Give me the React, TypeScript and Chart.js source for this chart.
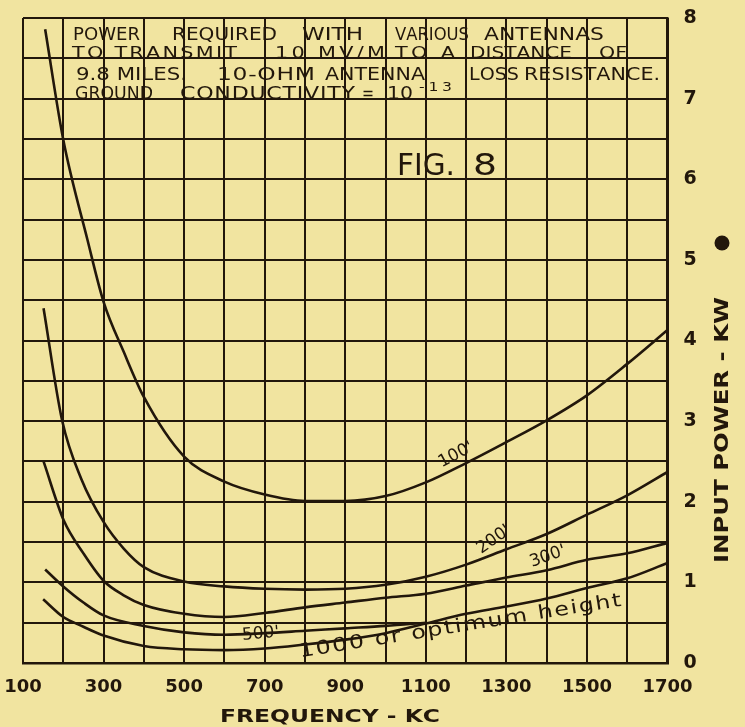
import React, { useEffect, useRef } from "react";
import { Chart, registerables } from "chart.js";

Chart.register(...registerables);

// ---- data (frequency in kc, input power in kW) ----
const FREQ_100 = [155, 200, 260, 300, 350, 400, 500, 600, 700, 800, 900, 1000, 1100, 1200, 1300, 1400, 1500, 1600, 1700];
const KW_100 = [7.86, 6.49, 5.25, 4.48, 3.86, 3.3, 2.56, 2.25, 2.09, 2.01, 2.01, 2.07, 2.24, 2.48, 2.74, 3.01, 3.32, 3.71, 4.13];

const FREQ_200 = [151, 197, 245, 300, 350, 400, 500, 600, 700, 800, 900, 1000, 1100, 1200, 1300, 1400, 1500, 1600, 1700];
const KW_200 = [4.4, 3.01, 2.28, 1.75, 1.42, 1.19, 1.01, 0.95, 0.92, 0.91, 0.92, 0.97, 1.07, 1.22, 1.41, 1.6, 1.84, 2.08, 2.37];

const FREQ_300 = [151, 201, 250, 300, 350, 400, 500, 600, 700, 800, 900, 1000, 1100, 1200, 1300, 1400, 1500, 1600, 1700];
const KW_300 = [2.5, 1.77, 1.36, 1.02, 0.84, 0.72, 0.61, 0.57, 0.62, 0.69, 0.75, 0.81, 0.86, 0.96, 1.06, 1.15, 1.28, 1.36, 1.49];

const FREQ_500 = [155, 200, 250, 300, 400, 500, 600, 700, 800, 900, 1000, 1100];
const KW_500 = [1.16, 0.95, 0.75, 0.59, 0.46, 0.38, 0.35, 0.37, 0.4, 0.43, 0.46, 0.5];

const FREQ_1000 = [150, 200, 250, 300, 400, 500, 600, 700, 800, 900, 1000, 1100, 1200, 1300, 1400, 1500, 1600, 1700];
const KW_1000 = [0.79, 0.57, 0.45, 0.34, 0.21, 0.17, 0.16, 0.18, 0.23, 0.29, 0.37, 0.49, 0.61, 0.7, 0.8, 0.93, 1.05, 1.24];

const X_TICK_LABELS = [100, 300, 500, 700, 900, 1100, 1300, 1500, 1700];
const Y_TICK_LABELS = [0, 1, 2, 3, 4, 5, 6, 7, 8];

const X_TITLE = "FREQUENCY - KC";
const Y_TITLE = "INPUT POWER - KW";
const FIG_LABEL = ["FIG.", "8"];

// ---- styles ----
const PAPER = "#F1E4A0";
const INK = "#22170b";
const FONT = "'DejaVu Sans', sans-serif";

type Word = [string, number, number];
const TITLE_LINES: { size: number; base: number; words: Word[] }[] = [
  { size: 18, base: 40, words: [["POWER", 73, 140], ["REQUIRED", 172, 277], ["WITH", 302, 363], ["VARIOUS", 395, 469], ["ANTENNAS", 484, 604]] },
  { size: 16, base: 58, words: [["TO TRANSMIT", 72, 237], ["10 MV/M", 275, 385], ["TO A", 395, 455], ["DISTANCE", 470, 572], ["OF", 599, 627]] },
  { size: 18, base: 80, words: [["9.8 MILES.", 76, 187], ["10-OHM", 217, 315], ["ANTENNA", 325, 425], ["LOSS", 469, 519], ["RESISTANCE.", 524, 660]] },
  { size: 17, base: 99, words: [["GROUND", 75, 153], ["CONDUCTIVITY", 180, 355], ["=", 362, 374], ["10", 387, 413]] },
];

// draws text between x0 and x1: widened up to maxScale, remaining room spread between letters
function drawSpaced(ctx: CanvasRenderingContext2D, text: string, x0: number, x1: number, y: number, maxScale = 1.3) {
  const chars = Array.from(text);
  const widths = chars.map((c) => ctx.measureText(c).width);
  const total = widths.reduce((a, b) => a + b, 0);
  const target = x1 - x0;
  const sx = chars.length < 2 ? target / total : Math.min(maxScale, target / total);
  const gap = chars.length < 2 ? 0 : (target - total * sx) / (chars.length - 1);
  let x = x0;
  chars.forEach((c, i) => {
    ctx.save();
    ctx.translate(x, y);
    ctx.scale(sx, 1);
    ctx.fillText(c, 0, 0);
    ctx.restore();
    x += widths[i] * sx + gap;
  });
}

const paperPlugin = {
  id: "paper",
  beforeDraw(chart: any) {
    const { ctx, width, height } = chart;
    ctx.save();
    ctx.fillStyle = PAPER;
    ctx.fillRect(0, 0, width, height);
    ctx.restore();
  },
};

const annotationPlugin = {
  id: "annotations",
  afterDraw(chart: any) {
    const { ctx } = chart;
    const xs = chart.scales.x;
    const ys = chart.scales.y;
    const px = (f: number) => xs.getPixelForValue(f);
    const py = (v: number) => ys.getPixelForValue(v);
    ctx.save();
    ctx.fillStyle = INK;
    ctx.textAlign = "left";
    ctx.textBaseline = "alphabetic";

    // title block
    TITLE_LINES.forEach((line) => {
      ctx.font = `${line.size}px ${FONT}`;
      line.words.forEach(([t, a, b]) => drawSpaced(ctx, t, a, b, line.base));
    });
    ctx.font = `12px ${FONT}`;
    drawSpaced(ctx, "-13", 419, 452, 91);

    // FIG. 8
    ctx.font = `30px ${FONT}`;
    drawSpaced(ctx, FIG_LABEL[0], 397, 455, 175);
    drawSpaced(ctx, FIG_LABEL[1], 473, 497, 175);

    // curve labels
    const lbl = (t: string, f: number, v: number, deg: number, size: number) => {
      ctx.save();
      ctx.translate(px(f), py(v));
      ctx.rotate((deg * Math.PI) / 180);
      ctx.font = `${size}px ${FONT}`;
      ctx.textAlign = "center";
      ctx.textBaseline = "middle";
      ctx.fillText(t, 0, 0);
      ctx.restore();
    };
    lbl("100'", 1175, 2.58, -28, 17);
    lbl("200'", 1269, 1.53, -35, 17);
    lbl("300'", 1403, 1.32, -20, 17);
    lbl("500'", 690, 0.36, -5, 17);

    // "1000 or optimum height" along the lowest curve
    {
      const x0 = px(788), y0 = py(0.07), x1 = px(1587), y1 = py(0.71);
      const ang = Math.atan2(y1 - y0, x1 - x0);
      const len = Math.hypot(x1 - x0, y1 - y0);
      ctx.save();
      ctx.translate(x0, y0);
      ctx.rotate(ang);
      ctx.font = `19px ${FONT}`;
      drawSpaced(ctx, "1000 or optimum height", 0, len, 0, 1.25);
      ctx.restore();
    }

    // x axis title
    ctx.font = `bold 18px ${FONT}`;
    drawSpaced(ctx, X_TITLE, 220, 440, 722);

    // y axis title (reads bottom to top)
    ctx.save();
    ctx.translate(728, 0);
    ctx.rotate(-Math.PI / 2);
    ctx.font = `bold 19px ${FONT}`;
    drawSpaced(ctx, Y_TITLE, -563, -297, 0);
    ctx.restore();
    ctx.beginPath();
    ctx.arc(722, 243, 7.5, 0, Math.PI * 2);
    ctx.fill();

    ctx.restore();
  },
};

function series(label: string, xs: number[], ys: number[]) {
  return {
    label,
    data: xs.map((x, i) => ({ x, y: ys[i] })),
    borderColor: INK,
    borderWidth: 2.6,
    pointRadius: 0,
    fill: false,
    cubicInterpolationMode: "monotone" as const,
  };
}

export default function App() {
  const ref = useRef<HTMLCanvasElement | null>(null);

  useEffect(() => {
    if (!ref.current) return;
    Chart.defaults.font.family = FONT;
    const chart = new Chart(ref.current, {
      type: "line",
      data: {
        datasets: [
          series("100'", FREQ_100, KW_100),
          series("200'", FREQ_200, KW_200),
          series("300'", FREQ_300, KW_300),
          series("500'", FREQ_500, KW_500),
          series("1000' or optimum height", FREQ_1000, KW_1000),
        ],
      },
      options: {
        responsive: false,
        animation: false,
        layout: { padding: { left: 23, top: 18, right: 0, bottom: 0 } },
        plugins: {
          legend: { display: false },
          tooltip: { enabled: false },
          title: { display: false },
        },
        scales: {
          x: {
            type: "linear",
            min: 100,
            max: 1700,
            afterFit: (s: any) => {
              s.height = 64;
              s.paddingLeft = 0;
              s.paddingRight = 0;
            },
            ticks: {
              stepSize: 100,
              autoSkip: false,
              maxRotation: 0,
              padding: 14,
              color: INK,
              font: { family: FONT, size: 18, weight: "bold" },
              callback: (v: any) => (X_TICK_LABELS.includes(Number(v)) ? String(v) : ""),
            },
            grid: { color: INK, lineWidth: 2, drawTicks: false },
            border: { color: INK, width: 2.5 },
          },
          y: {
            type: "linear",
            position: "right",
            min: 0,
            max: 8,
            afterFit: (s: any) => {
              s.width = 77.5;
              s.paddingTop = 0;
              s.paddingBottom = 0;
            },
            ticks: {
              stepSize: 0.5,
              autoSkip: false,
              padding: 16,
              crossAlign: "center",
              color: INK,
              font: { family: FONT, size: 19, weight: "bold" },
              callback: (v: any) => (Y_TICK_LABELS.includes(Number(v)) ? String(v) : ""),
            },
            grid: { color: INK, lineWidth: 2, drawTicks: false },
            border: { color: INK, width: 2.5 },
          },
        },
      } as any,
      plugins: [paperPlugin, annotationPlugin],
    });
    return () => chart.destroy();
  }, []);

  return (
    <div style={{ position: "absolute", left: 0, top: 0, width: 745, height: 727 }}>
      <canvas ref={ref} width={745} height={727} />
    </div>
  );
}
